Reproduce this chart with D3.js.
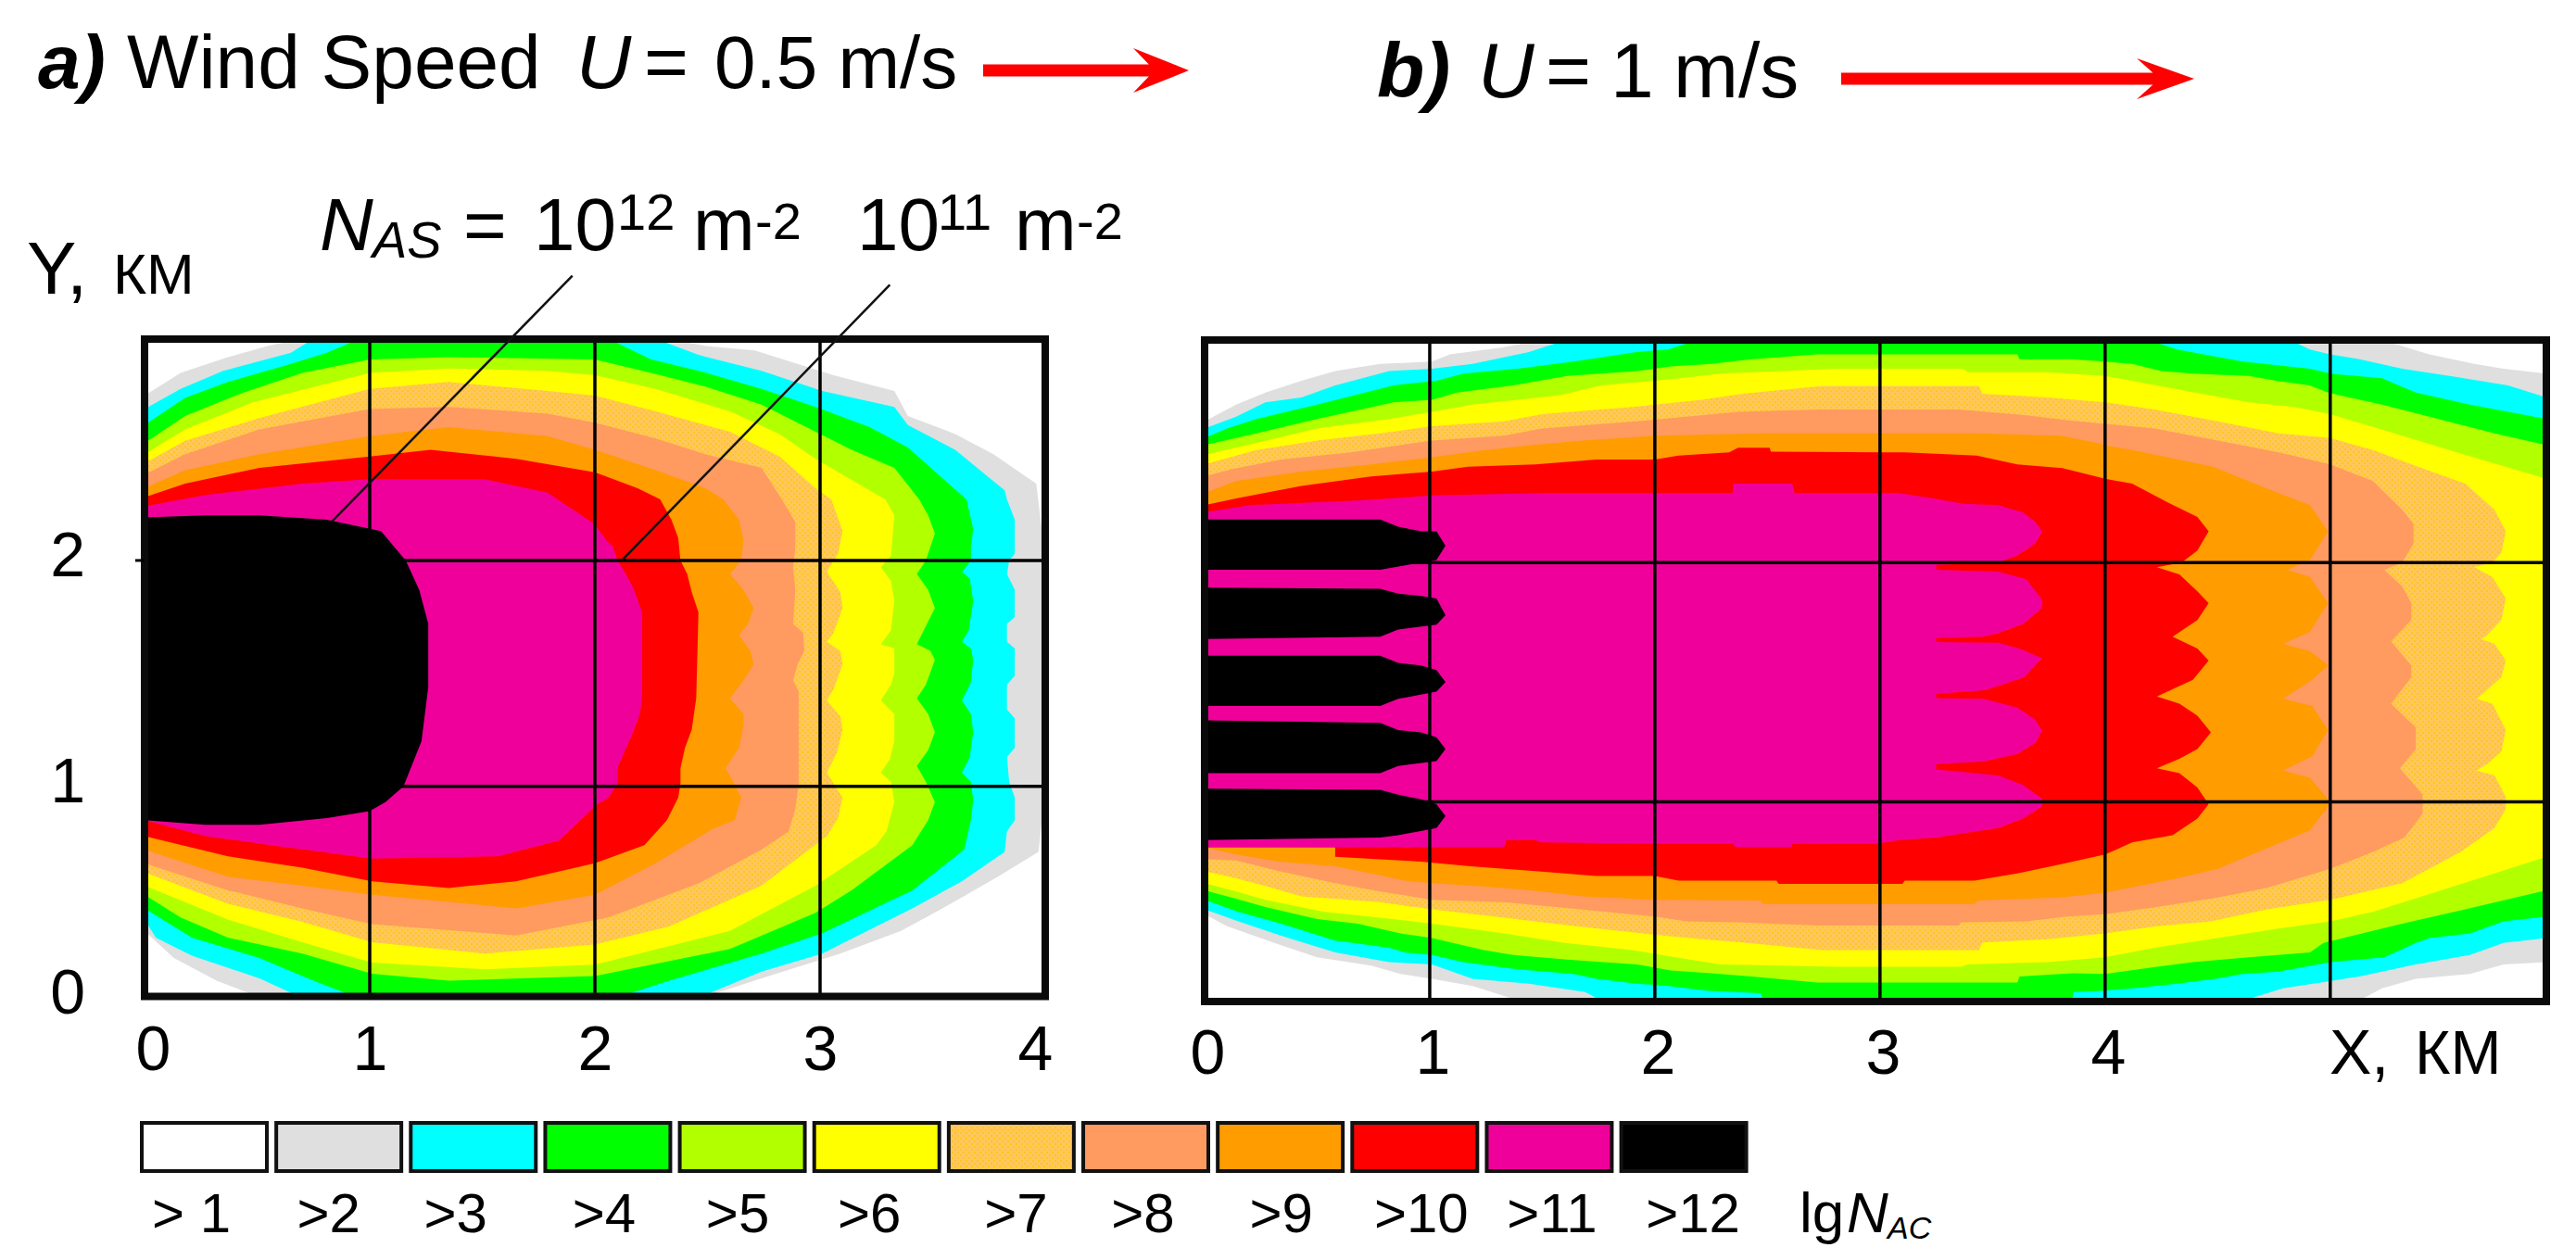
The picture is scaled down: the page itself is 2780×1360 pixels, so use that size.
<!DOCTYPE html>
<html>
<head>
<meta charset="utf-8">
<script src="https://d3js.org/d3.v7.min.js"></script>
<style>
  html, body {margin:0; padding:0; background:#fff;}
  text {font-family:"Liberation Sans", Arial, sans-serif; fill:#000;}
</style>
</head>
<body>
<div id="chart-area"></div>
<script>
// legend
const levelLabels = ["> 1",">2",">3",">4",">5",">6",">7",">8",">9",">10",">11",">12"];
const levelColors = ["#ffffff","#dfdfdf","#00ffff","#00ff00","#b2ff00","#ffff00","url(#dither)","#ff9a60","#ff9c00","#ff0000","#f0009a","#000000"];

// axis ticks (km)
const aTicksX = [0,1,2,3,4];
const bTicksX = [0,1,2,3,4];
const gridAX = [1,2,3];
const gridBX = [1,2,3,4,5];
const gridY = [1,2];
const ticksY = [0,1,2];

// panel a, contours lgN > level, [x km, y km]
const a2 = [[0,2.73],[.16,2.83],[.37,2.90],[.55,2.95],[.78,3.0],[2.22,3.0],[2.49,2.95],[2.71,2.93],[2.87,2.88],[3.06,2.82],[3.33,2.75],[3.39,2.64],[3.60,2.56],[3.77,2.47],[3.96,2.34],[4,2.01],[4,.98],[3.97,.71],[3.79,.60],[3.58,.48],[3.36,.36],[3.09,.26],[2.74,.15],[2.40,.04],[.58,.04],[.32,.14],[.13,.24],[0,.36]];
const a3 = [[0,2.67],[.16,2.76],[.35,2.84],[.65,2.92],[.78,3.0],[2.22,3.0],[2.46,2.91],[2.74,2.84],[3.01,2.75],[3.33,2.68],[3.39,2.60],[3.60,2.49],[3.82,2.31],[3.83,2.27],[3.865,2.18],[3.865,2.03],[3.84,2.0],[3.83,1.94],[3.865,1.87],[3.865,1.75],[3.83,1.72],[3.83,1.64],[3.865,1.61],[3.865,1.49],[3.83,1.45],[3.83,1.34],[3.865,1.30],[3.865,1.17],[3.83,1.13],[3.84,1.02],[3.865,.95],[3.865,.85],[3.83,.80],[3.82,.71],[3.63,.58],[3.41,.46],[3.01,.26],[2.74,.18],[2.40,.04],[.75,.04],[.51,.15],[.21,.25],[.05,.33],[0,.41]];
const a4 = [[0,2.60],[.18,2.72],[.37,2.79],[.65,2.87],[.81,2.92],[1.0,3.0],[2.02,3.0],[2.25,2.89],[2.46,2.84],[2.74,2.76],[2.98,2.68],[3.22,2.59],[3.39,2.50],[3.65,2.27],[3.68,2.14],[3.67,2.06],[3.67,2.0],[3.63,1.95],[3.665,1.92],[3.68,1.82],[3.66,1.69],[3.63,1.64],[3.67,1.61],[3.68,1.56],[3.67,1.46],[3.63,1.38],[3.67,1.32],[3.68,1.24],[3.665,1.13],[3.63,1.06],[3.67,1.02],[3.68,.94],[3.67,.85],[3.64,.72],[3.41,.54],[3.01,.35],[2.74,.26],[2.33,.14],[2.02,.04],[1.01,.04],[.75,.14],[.51,.24],[.21,.33],[0,.46]];
const a5 = [[0,2.52],[.18,2.64],[.43,2.74],[.70,2.83],[1.0,2.89],[1.35,2.90],[2.0,2.89],[2.25,2.83],[2.49,2.77],[2.74,2.69],[2.98,2.57],[3.14,2.49],[3.33,2.41],[3.44,2.27],[3.48,2.20],[3.51,2.12],[3.48,2.03],[3.47,2.0],[3.43,1.94],[3.48,1.87],[3.51,1.79],[3.47,1.71],[3.43,1.63],[3.49,1.60],[3.51,1.56],[3.47,1.45],[3.43,1.39],[3.48,1.32],[3.51,1.24],[3.48,1.16],[3.43,1.09],[3.47,1.02],[3.51,.93],[3.48,.85],[3.41,.74],[3.14,.54],[2.98,.44],[2.60,.28],[2.0,.16],[1.35,.14],[1.01,.17],[.70,.26],[.37,.33],[.16,.42],[0,.52]];
const a6 = [[0,2.47],[.18,2.58],[.48,2.70],[1.0,2.83],[1.35,2.85],[1.79,2.84],[2.0,2.82],[2.27,2.76],[2.60,2.66],[2.82,2.56],[2.98,2.45],[3.22,2.31],[3.29,2.27],[3.33,2.20],[3.315,2.02],[3.27,1.97],[3.315,1.91],[3.33,1.82],[3.315,1.69],[3.27,1.63],[3.33,1.61],[3.33,1.50],[3.315,1.45],[3.27,1.38],[3.33,1.32],[3.33,1.20],[3.31,1.12],[3.27,1.06],[3.315,1.02],[3.33,.93],[3.295,.80],[3.25,.74],[2.98,.56],[2.60,.36],[2.0,.21],[1.51,.19],[1.01,.22],[.70,.31],[.37,.41],[0,.56]];
const a7 = [[0,2.43],[.18,2.53],[.51,2.63],[1.0,2.76],[1.35,2.79],[1.79,2.75],[2.0,2.73],[2.27,2.66],[2.60,2.57],[2.82,2.46],[2.98,2.32],[3.05,2.27],[3.10,2.13],[3.08,2.03],[3.03,1.95],[3.09,1.86],[3.10,1.79],[3.06,1.68],[3.03,1.64],[3.09,1.60],[3.10,1.54],[3.06,1.43],[3.03,1.38],[3.09,1.31],[3.10,1.25],[3.075,1.15],[3.03,1.06],[3.10,.95],[3.08,.86],[3.03,.78],[2.74,.56],[2.33,.38],[2.0,.30],[1.51,.26],[1.01,.31],[.70,.40],[.37,.48],[0,.62]];
const a8 = [[0,2.38],[.18,2.47],[.51,2.58],[1.0,2.67],[1.35,2.68],[1.79,2.65],[2.0,2.61],[2.27,2.54],[2.49,2.47],[2.74,2.41],[2.83,2.27],[2.89,2.17],[2.89,2.05],[2.88,1.97],[2.89,1.87],[2.88,1.72],[2.925,1.68],[2.93,1.60],[2.90,1.54],[2.88,1.47],[2.905,1.42],[2.905,1.01],[2.89,.90],[2.86,.80],[2.74,.72],[2.46,.57],[2.06,.42],[1.65,.34],[1.01,.39],[.70,.46],[.37,.54],[0,.66]];
const a9 = [[0,2.32],[.18,2.40],[.51,2.47],[1.0,2.55],[1.35,2.59],[1.79,2.55],[2.0,2.49],[2.27,2.40],[2.49,2.32],[2.57,2.27],[2.64,2.18],[2.66,2.09],[2.65,2.0],[2.60,1.94],[2.66,1.87],[2.705,1.79],[2.68,1.72],[2.64,1.67],[2.69,1.60],[2.705,1.54],[2.66,1.47],[2.60,1.39],[2.66,1.32],[2.66,1.27],[2.64,1.17],[2.58,1.08],[2.62,1.01],[2.65,.95],[2.62,.85],[2.52,.81],[2.27,.66],[2.0,.52],[1.65,.46],[1.01,.52],[.70,.56],[.37,.60],[0,.72]];
const a10 = [[0,2.28],[.18,2.34],[.51,2.41],[1.0,2.46],[1.27,2.49],[1.65,2.45],[2.0,2.39],[2.19,2.32],[2.29,2.27],[2.34,2.18],[2.37,2.10],[2.38,2.0],[2.41,1.94],[2.43,1.86],[2.46,1.77],[2.45,1.39],[2.43,1.25],[2.40,1.17],[2.38,1.08],[2.38,1.01],[2.37,.95],[2.32,.85],[2.22,.74],[2.0,.66],[1.65,.58],[1.35,.55],[1.01,.58],[.70,.64],[.37,.69],[0,.78]];
const a11 = [[0,2.24],[.27,2.29],[.70,2.34],[1.0,2.36],[1.51,2.36],[1.79,2.30],[2.0,2.16],[2.05,2.09],[2.08,2.06],[2.10,2.0],[2.12,1.97],[2.17,1.88],[2.21,1.77],[2.21,1.40],[2.20,1.32],[2.17,1.24],[2.13,1.15],[2.10,1.08],[2.10,1.01],[2.06,.95],[2.01,.92],[1.84,.76],[1.57,.69],[1.01,.68],[.56,.74],[.27,.78],[0,.85]];
const a12 = [[0,2.19],[.27,2.20],[.51,2.20],[.81,2.18],[1.05,2.13],[1.16,2.0],[1.22,1.87],[1.26,1.72],[1.26,1.44],[1.23,1.20],[1.15,1.0],[1.07,.93],[1.0,.89],[.81,.86],[.51,.83],[.27,.83],[0,.85]];

// panel b
const b2 = [[0,2.59],[.14,2.66],[.27,2.71],[.43,2.76],[.58,2.80],[.78,2.83],[1.01,2.84],[1.09,2.87],[1.33,2.90],[1.6,2.95],[5.16,2.95],[5.44,2.87],[5.64,2.83],[5.77,2.81],[5.96,2.79],[5.96,.33],[5.77,.32],[5.62,.28],[5.38,.26],[5.23,.22],[5.09,.15],[1.39,.15],[1.36,.18],[1.19,.23],[1.01,.26],[.87,.28],[.74,.315],[.5,.35],[.34,.40],[.1,.48],[0,.53]];
const b3 = [[0,2.56],[.14,2.61],[.27,2.67],[.43,2.69],[.58,2.74],[.82,2.80],[1.01,2.81],[1.19,2.83],[1.44,2.88],[1.67,2.95],[4.78,2.95],[4.91,2.89],[5.0,2.87],[5.13,2.85],[5.32,2.81],[5.53,2.78],[5.79,2.74],[5.96,2.69],[5.96,.43],[5.77,.41],[5.62,.36],[5.38,.32],[5.13,.27],[5.0,.25],[4.79,.22],[4.55,.15],[1.8,.15],[1.69,.205],[1.44,.24],[1.19,.26],[1.01,.32],[.82,.33],[.58,.37],[.34,.44],[.15,.50],[0,.55]];
const b4 = [[0,2.52],[.1,2.56],[.23,2.60],[.5,2.66],[.84,2.74],[1.03,2.76],[1.15,2.79],[1.39,2.81],[1.64,2.84],[1.92,2.88],[2.06,2.89],[2.25,2.95],[4.13,2.95],[4.32,2.89],[4.61,2.84],[4.91,2.81],[5.0,2.79],[5.23,2.77],[5.38,2.71],[5.62,2.66],[5.96,2.60],[5.96,.52],[5.77,.50],[5.62,.45],[5.44,.43],[5.38,.41],[5.24,.35],[5.0,.33],[4.77,.29],[4.61,.28],[4.49,.26],[4.32,.24],[4.12,.22],[3.985,.21],[3.86,.205],[3.85,.15],[2.49,.15],[2.47,.20],[2.24,.21],[2.06,.23],[1.92,.24],[1.74,.26],[1.64,.28],[1.39,.30],[1.15,.33],[1.01,.36],[.89,.37],[.82,.39],[.58,.42],[.34,.49],[.15,.54],[0,.59]];
const b5 = [[0,2.49],[.23,2.54],[.5,2.60],[.84,2.67],[1.01,2.68],[1.12,2.71],[1.37,2.74],[1.61,2.78],[1.92,2.80],[2.07,2.82],[2.25,2.83],[2.43,2.85],[2.72,2.87],[3.61,2.87],[3.62,2.85],[3.855,2.85],[4.0,2.84],[4.12,2.83],[4.25,2.80],[4.39,2.79],[4.64,2.78],[4.76,2.76],[4.91,2.74],[4.99,2.71],[5.23,2.66],[5.44,2.61],[5.73,2.54],[5.96,2.49],[5.96,.63],[5.60,.55],[5.32,.49],[4.97,.41],[4.91,.37],[4.64,.35],[4.39,.33],[4.23,.31],[4.0,.28],[3.855,.283],[3.62,.27],[3.61,.244],[2.72,.244],[2.43,.27],[2.25,.283],[2.07,.295],[1.92,.32],[1.61,.34],[1.37,.36],[1.24,.38],[1.01,.43],[.87,.45],[.68,.49],[.5,.51],[.27,.56],[.12,.60],[0,.63]];
const b6 = [[0,2.45],[.23,2.50],[.5,2.56],[.82,2.60],[1.01,2.63],[1.19,2.66],[1.58,2.70],[1.76,2.74],[2.0,2.76],[2.11,2.77],[2.29,2.79],[2.81,2.81],[3.37,2.81],[3.39,2.795],[3.745,2.795],[4.0,2.78],[4.40,2.71],[4.64,2.67],[4.84,2.65],[5.0,2.62],[5.32,2.53],[5.60,2.45],[5.96,2.35],[5.96,.77],[5.73,.70],[5.46,.62],[5.19,.54],[5.0,.50],[4.77,.47],[4.50,.43],[4.22,.39],[4.0,.35],[3.745,.33],[3.39,.32],[3.36,.31],[2.81,.31],[2.29,.32],[2.11,.347],[1.9,.38],[1.6,.41],[1.33,.45],[1.01,.49],[.78,.515],[.53,.54],[.27,.59],[.14,.625],[0,.66]];
const b7 = [[0,2.41],[.23,2.47],[.5,2.51],[.78,2.54],[1.01,2.57],[1.33,2.59],[1.5,2.62],[1.9,2.65],[2.21,2.68],[2.39,2.705],[2.74,2.737],[3.44,2.737],[3.455,2.705],[3.745,2.69],[4.0,2.67],[4.22,2.64],[4.50,2.59],[4.77,2.54],[5.0,2.52],[5.19,2.47],[5.39,2.40],[5.60,2.33],[5.73,2.22],[5.78,2.13],[5.76,2.04],[5.72,2.0],[5.64,1.98],[5.72,1.94],[5.78,1.85],[5.76,1.76],[5.69,1.69],[5.67,1.68],[5.73,1.66],[5.78,1.59],[5.76,1.52],[5.70,1.47],[5.65,1.43],[5.72,1.41],[5.78,1.30],[5.76,1.21],[5.70,1.16],[5.65,1.13],[5.73,1.11],[5.78,1.02],[5.78,.97],[5.73,.89],[5.58,.79],[5.32,.66],[5.0,.59],[4.72,.55],[4.47,.50],[4.23,.48],[4.0,.45],[3.745,.425],[3.455,.412],[3.44,.38],[2.74,.38],[2.39,.412],[2.21,.425],[2.0,.444],[1.65,.48],[1.33,.515],[1.01,.55],[.78,.58],[.43,.605],[.28,.645],[.14,.68],[0,.71]];
const b8 = [[0,2.36],[.12,2.39],[.34,2.43],[.65,2.46],[1.01,2.51],[1.33,2.53],[1.5,2.56],[1.92,2.59],[2.14,2.61],[2.37,2.63],[2.73,2.64],[3.35,2.64],[3.65,2.615],[3.83,2.595],[4.0,2.58],[4.22,2.56],[4.50,2.51],[4.77,2.46],[5.0,2.41],[5.19,2.34],[5.32,2.22],[5.37,2.16],[5.37,2.08],[5.32,2.0],[5.24,1.97],[5.32,1.90],[5.36,1.83],[5.36,1.76],[5.27,1.67],[5.36,1.57],[5.36,1.52],[5.27,1.41],[5.38,1.31],[5.38,1.22],[5.31,1.14],[5.41,1.03],[5.41,.95],[5.33,.85],[5.19,.79],[5.0,.72],[4.72,.64],[4.50,.60],[4.23,.56],[4.0,.53],[3.83,.52],[3.65,.50],[3.36,.496],[3.35,.483],[2.73,.483],[2.37,.496],[2.14,.50],[2.0,.52],[1.67,.55],[1.33,.58],[1.01,.59],[.78,.625],[.58,.66],[.33,.71],[.14,.755],[0,.76]];
const b9 = [[0,2.29],[.14,2.34],[.43,2.38],[.74,2.41],[1.01,2.44],[1.25,2.47],[1.45,2.49],[1.68,2.51],[2.0,2.53],[2.47,2.54],[3.42,2.54],[3.80,2.53],[3.94,2.505],[4.0,2.49],[4.12,2.47],[4.48,2.40],[4.77,2.29],[4.91,2.24],[4.99,2.13],[4.91,2.01],[4.81,1.97],[4.91,1.94],[4.99,1.83],[4.91,1.71],[4.79,1.66],[4.91,1.63],[4.99,1.57],[4.92,1.51],[4.79,1.43],[4.92,1.40],[4.99,1.30],[4.92,1.19],[4.79,1.13],[4.91,1.10],[4.99,1.01],[4.99,.98],[4.91,.88],[4.68,.79],[4.50,.72],[4.32,.68],[4.0,.62],[3.80,.60],[3.435,.587],[3.42,.573],[2.48,.573],[2.47,.587],[2.0,.59],[1.68,.605],[1.45,.63],[1.25,.645],[1.01,.66],[.89,.67],[.74,.70],[.58,.73],[.33,.75],[.14,.78],[0,.81]];
const b10 = [[0,2.24],[.15,2.27],[.43,2.32],[.74,2.36],[1.01,2.38],[1.17,2.40],[1.47,2.41],[1.74,2.43],[2.0,2.43],[2.105,2.447],[2.33,2.46],[2.37,2.48],[2.51,2.48],[2.515,2.463],[3.11,2.46],[3.43,2.447],[3.61,2.41],[3.81,2.395],[4.0,2.35],[4.12,2.33],[4.28,2.25],[4.41,2.19],[4.46,2.13],[4.41,2.05],[4.34,2.0],[4.23,1.98],[4.33,1.95],[4.41,1.88],[4.46,1.83],[4.41,1.76],[4.30,1.69],[4.41,1.64],[4.46,1.59],[4.39,1.51],[4.23,1.44],[4.33,1.41],[4.41,1.36],[4.47,1.29],[4.41,1.22],[4.33,1.18],[4.23,1.14],[4.33,1.12],[4.41,1.06],[4.46,.99],[4.41,.93],[4.30,.86],[4.12,.83],[4.05,.80],[4.0,.78],[3.81,.74],[3.61,.70],[3.42,.67],[3.11,.67],[3.10,.657],[2.55,.657],[2.54,.67],[2.105,.67],[2.0,.69],[1.74,.69],[1.47,.71],[1.18,.73],[.96,.75],[.76,.76],[.58,.77],[.58,.81],[0,.81]];
const b11 = [[0,2.21],[.2,2.24],[.7,2.26],[1.01,2.28],[1.5,2.29],[2.345,2.29],[2.35,2.33],[2.61,2.33],[2.62,2.29],[3.085,2.29],[3.25,2.266],[3.37,2.246],[3.525,2.24],[3.635,2.21],[3.69,2.17],[3.72,2.13],[3.69,2.08],[3.61,2.03],[3.525,2.0],[3.25,1.99],[3.25,1.97],[3.525,1.962],[3.65,1.93],[3.72,1.845],[3.72,1.81],[3.635,1.743],[3.525,1.704],[3.456,1.69],[3.25,1.685],[3.25,1.668],[3.525,1.665],[3.62,1.64],[3.72,1.60],[3.64,1.52],[3.525,1.484],[3.46,1.465],[3.25,1.452],[3.25,1.433],[3.46,1.43],[3.61,1.394],[3.69,1.342],[3.72,1.297],[3.69,1.245],[3.61,1.20],[3.46,1.168],[3.25,1.157],[3.25,1.135],[3.525,1.11],[3.635,1.07],[3.72,1.013],[3.72,.98],[3.635,.93],[3.525,.89],[3.25,.85],[3.085,.84],[2.99,.825],[2.61,.823],[2.61,.81],[2.36,.81],[2.345,.825],[2.0,.825],[1.49,.83],[1.47,.84],[1.34,.84],[1.33,.81],[0,.81]];
// black tongues, five sources
const b12a = [[0,2.18],[.78,2.18],[.86,2.15],[.96,2.13],[1.03,2.13],[1.07,2.07],[1.03,2.01],[.96,2.0],[.78,1.97],[0,1.97]];
const b12b = [[0,1.895],[.78,1.89],[.86,1.87],[.96,1.86],[1.03,1.85],[1.07,1.78],[1.03,1.74],[.86,1.72],[.78,1.69],[0,1.68]];
const b12c = [[0,1.61],[.78,1.61],[.86,1.58],[.96,1.57],[1.03,1.55],[1.07,1.50],[1.03,1.46],[.86,1.43],[.78,1.40],[0,1.40]];
const b12d = [[0,1.34],[.78,1.33],[.86,1.30],[.96,1.29],[1.03,1.27],[1.07,1.22],[1.03,1.17],[.86,1.15],[.78,1.12],[0,1.12]];
const b12e = [[0,1.055],[.78,1.05],[.86,1.03],[.96,1.01],[1.03,.99],[1.07,.94],[1.03,.89],[.86,.86],[.78,.85],[0,.84]];

// leader lines of panel a
const leader12 = [[.83,2.17],[1.9,3.26]];
const leader11 = [[2.12,2.00],[3.31,3.22]];

const panelA = [[a2,1],[a3,2],[a4,3],[a5,4],[a6,5],[a7,6],[a8,7],[a9,8],[a10,9],[a11,10],[a12,11]];
const panelB = [[b2,1],[b3,2],[b4,3],[b5,4],[b6,5],[b7,6],[b8,7],[b9,8],[b10,9],[b11,10],[b12a,11],[b12b,11],[b12c,11],[b12d,11],[b12e,11]];

const svg = d3.select("#chart-area")
    .append("svg")
        .attr("width", 2780)
        .attr("height", 1360)
        .style("display", "block");

// dotted fill of class >7
const dither = svg.append("defs").append("pattern")
    .attr("id", "dither")
    .attr("patternUnits", "userSpaceOnUse")
    .attr("width", 6).attr("height", 6);
dither.append("rect").attr("width", 6).attr("height", 6).attr("fill", "#ffc75c");
dither.append("rect").attr("x", 1).attr("y", 1).attr("width", 2).attr("height", 2).attr("fill", "#ffc51e");
dither.append("rect").attr("x", 4).attr("y", 4).attr("width", 2).attr("height", 2).attr("fill", "#ffc51e");

// scales, the frames start a bit above y=0
const xA = d3.scaleLinear().domain([0,4]).range([156,1128]);
const yA = d3.scaleLinear().domain([0.07,2.98]).range([1075.5,366]);
const xB = d3.scaleLinear().domain([0,5.96]).range([1300,2748]);
const yB = d3.scaleLinear().domain([0.165,2.93]).range([1081,367]);

function drawPanel(id, levels, x, y, gridX){
    const line = d3.line()
        .x(function(d){return x(d[0]);})
        .y(function(d){return y(d[1]);});

    svg.append("clipPath").attr("id", id)
        .append("rect")
        .attr("x", x.range()[0]).attr("y", y.range()[1])
        .attr("width", x.range()[1]-x.range()[0])
        .attr("height", y.range()[0]-y.range()[1]);

    const g = svg.append("g").attr("clip-path", "url(#"+id+")");

    g.selectAll("path.level").data(levels).enter()
        .append("path")
        .attr("class", "level")
        .attr("d", function(d){return line(d[0])+"Z";})
        .attr("fill", function(d){return levelColors[d[1]];})
        .attr("stroke", "none");

    // grid
    g.selectAll("line.vx").data(gridX).enter().append("line")
        .attr("x1", function(d){return x(d);})
        .attr("x2", function(d){return x(d);})
        .attr("y1", y.range()[0])
        .attr("y2", y.range()[1])
        .attr("stroke", "#000").attr("stroke-width", 3.5);
    g.selectAll("line.hy").data(gridY).enter().append("line")
        .attr("x1", x.range()[0])
        .attr("x2", x.range()[1])
        .attr("y1", function(d){return y(d);})
        .attr("y2", function(d){return y(d);})
        .attr("stroke", "#000").attr("stroke-width", 3.5);

    // frame
    svg.append("rect")
        .attr("x", x.range()[0]).attr("y", y.range()[1])
        .attr("width", x.range()[1]-x.range()[0])
        .attr("height", y.range()[0]-y.range()[1])
        .attr("fill", "none")
        .attr("stroke", "#0a0a0a")
        .attr("stroke-width", 8);
}

drawPanel("clipA", panelA, xA, yA, gridAX);
drawPanel("clipB", panelB, xB, yB, gridBX);

// leaders
const leaderLine = d3.line().x(function(d){return xA(d[0]);}).y(function(d){return yA(d[1]);});
[leader12, leader11].forEach(function(l){
    svg.append("path").attr("d", leaderLine(l))
        .attr("fill", "none").attr("stroke", "#111").attr("stroke-width", 2.5);
});

// small tick at y=2
svg.append("line")
    .attr("x1", xA(0)-10).attr("x2", xA(0))
    .attr("y1", yA(2)).attr("y2", yA(2))
    .attr("stroke", "#000").attr("stroke-width", 3);

// axes
const fmt = d3.format("d");
const axisBottomA = d3.axisBottom(xA).tickValues(aTicksX).tickFormat(fmt).tickSize(0).tickPadding(0);
const axisBottomB = d3.axisBottom(xB).tickValues(bTicksX).tickFormat(fmt).tickSize(0).tickPadding(0);
const axisLeftA = d3.axisLeft(yA).tickValues(ticksY).tickFormat(fmt).tickSize(0).tickPadding(64);

function styleAxis(sel){
    sel.select(".domain").remove();
    sel.selectAll("text")
        .attr("font-size", 68)
        .style("font-family", '"Liberation Sans", Arial, sans-serif')
        .attr("fill", "#000");
}

const gxA = svg.append("g").attr("transform", "translate(0,1155)").call(axisBottomA).call(styleAxis);
gxA.selectAll("text").attr("y", 0).attr("dy", 0)
    .attr("dx", function(d){return d===0 ? 9 : (d===4 ? -11 : 0);});

const gxB = svg.append("g").attr("transform", "translate(0,1159)").call(axisBottomB).call(styleAxis);
gxB.selectAll("text").attr("y", 0).attr("dy", 0).attr("dx", 3);

const gyA = svg.append("g").attr("transform", "translate(156,0)").call(axisLeftA).call(styleAxis);
gyA.selectAll("text").attr("dy", function(d){return d===0 ? "0.02em" : "0.24em";});

// text pieces
function put(x, y, size, str, opts){
    opts = opts || {};
    return svg.append("text")
        .attr("x", x).attr("y", y)
        .attr("font-size", size)
        .attr("font-style", opts.italic ? "italic" : "normal")
        .attr("font-weight", opts.bold ? "bold" : "normal")
        .text(str);
}

// titles
put(41, 95, 82, "a)", {italic:true, bold:true});
put(137, 95, 82, "Wind Speed");
put(622, 95, 82, "U", {italic:true});
put(695, 95, 82, "=");
put(771, 95, 80, "0.5 m/s");
put(1486, 105, 84, "b)", {italic:true, bold:true});
put(1595, 105, 84, "U", {italic:true});
put(1668, 105, 84, "=");
put(1738, 105, 84, "1");
put(1806, 105, 84, "m/s");

// N_AS labels
put(345, 270, 80, "N", {italic:true});
put(402, 278, 56, "AS", {italic:true});
put(500, 270, 80, "=");
put(576, 270, 80, "10");
put(666, 248, 56, "12");
put(748, 270, 80, "m");
put(815, 258, 56, "-2");
put(925, 270, 80, "10");
put(1012, 248, 56, "11");
put(1095, 270, 80, "m");
put(1162, 258, 56, "-2");

// axis names
put(29, 317, 80, "Y,");
put(122, 317, 62, "КМ");
put(2514, 1159, 68, "X,");
put(2606, 1159, 66, "КМ");

// arrows
function arrow(x0, x1, cy, thick, headLen, headHalf){
    const a = d3.path();
    a.moveTo(x0, cy-thick/2);
    a.lineTo(x1-headLen*0.72, cy-thick/2);
    a.lineTo(x1-headLen, cy-headHalf);
    a.lineTo(x1, cy);
    a.lineTo(x1-headLen, cy+headHalf);
    a.lineTo(x1-headLen*0.72, cy+thick/2);
    a.lineTo(x0, cy+thick/2);
    a.closePath();
    svg.append("path").attr("d", a.toString()).attr("fill", "#ff0000");
}
arrow(1061, 1283, 76, 13, 60, 24);
arrow(1987, 2368, 85, 13, 62, 22);

// legend
const legendX = d3.scaleBand().domain(d3.range(levelColors.length)).range([153, 153+144.3*12]).paddingInner(0.07).paddingOuter(0);
const labelShift = [-14,-11,-19,-4,-5,-8,5,-3,1,7,3,10];
const legend = svg.append("g");
legend.selectAll("rect").data(levelColors).enter().append("rect")
    .attr("x", function(d,i){return legendX(i);})
    .attr("y", 1212)
    .attr("width", legendX.bandwidth())
    .attr("height", 52)
    .attr("fill", function(d){return d;})
    .attr("stroke", "#111")
    .attr("stroke-width", 4);
legend.selectAll("text").data(levelLabels).enter().append("text")
    .attr("x", function(d,i){return legendX(i)+legendX.bandwidth()/2+labelShift[i];})
    .attr("y", 1330)
    .attr("text-anchor", "middle")
    .attr("font-size", 60)
    .text(function(d){return d;});

put(1942, 1330, 62, "lg");
put(1993, 1330, 62, "N", {italic:true});
put(2037, 1337, 34, "AC", {italic:true});
</script>
</body>
</html>
